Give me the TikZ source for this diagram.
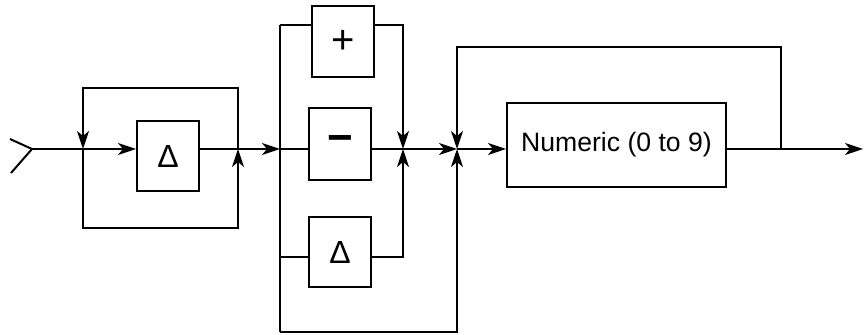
\documentclass[tikz,border=0pt]{standalone}
\usepackage{fontspec}
\setmainfont{Liberation Sans}
\usetikzlibrary{arrows.meta}
\tikzset{
  rbox/.style={draw,line width=1pt,inner sep=0pt,font=\fontsize{13.3}{14}\selectfont},
  rail/.style={line width=1pt},
  symtxt/.style={font=\fontsize{20}{20}\selectfont},
  deltatxt/.style={font=\fontsize{16}{16}\selectfont}
}
\begin{document}
\begin{tikzpicture}[>={Stealth[length=9pt,width=6pt,inset=2.5pt]},x=0.5pt,y=-0.5pt]
\useasboundingbox (0,0) rectangle (864,335);
% Knoten und Verzweigungen
\coordinate (forkA) at (10,139);
\coordinate (forkB) at (11,173);
\coordinate (in) at (32,149);
\coordinate (j1) at (83,149);
\coordinate (j2) at (238,149);
\coordinate (j3) at (280,149);
\coordinate (j4) at (403,149);
\coordinate (j5) at (457,149);
\coordinate (j6) at (781,149);
\coordinate (out) at (863,149);
\coordinate (l1top) at (83,88);
\coordinate (l1bot) at (83,228);
\coordinate (s2top) at (280,25);
\coordinate (s2mid) at (280,257);
\coordinate (s2bot) at (280,332);
\coordinate (l3top) at (781,47);
\node[rbox,deltatxt,minimum width=31pt,minimum height=35pt] (d1) at (168,156) {Δ};
\node[rbox,symtxt,minimum width=31pt,minimum height=35.5pt] (plus) at (343,41.5) {+};
\node[rbox,minimum width=31pt,minimum height=36pt] (minus) at (340,144) {\fontsize{22}{22}\selectfont\bfseries −};
\node[rbox,deltatxt,minimum width=31pt,minimum height=35pt] (d2) at (340,252) {Δ};
\node[rbox,minimum width=109.5pt,minimum height=42pt] (num) at (616.5,145) {Numeric (0 to 9)};
% Eingang
\draw[rail] (forkA) -- (in) -- (forkB);
\draw[rail,->] (in) -- (d1.west |- in);
% Schleife eins
\draw[rail,->] (j2) |- (l1top) -- (j1);
\draw[rail,->] (j1) -- (l1bot) -| (j2);
\draw[rail,->] (d1.east |- j2) -- (j3);
% Vorzeichen
\draw[rail] (s2top) -- (s2bot);
\draw[rail] (s2top) -- (plus.west |- s2top);
\draw[rail,->] (plus.east |- s2top) -| (j4);
\draw[rail] (j3) -- (minus.west |- j3);
\draw[rail,->] (minus.east |- j4) -- (j5);
\draw[rail] (s2mid) -- (d2.west |- s2mid);
\draw[rail,->] (d2.east |- s2mid) -| (j4);
\draw[rail,->] (s2bot) -| (j5);
% Ziffern
\draw[rail,->] (j5) -- (num.west |- j5);
\draw[rail,->] (num.east |- j6) -- (out);
\draw[rail,->] (j6) -- (l3top) -| (j5);
\end{tikzpicture}
\end{document}
